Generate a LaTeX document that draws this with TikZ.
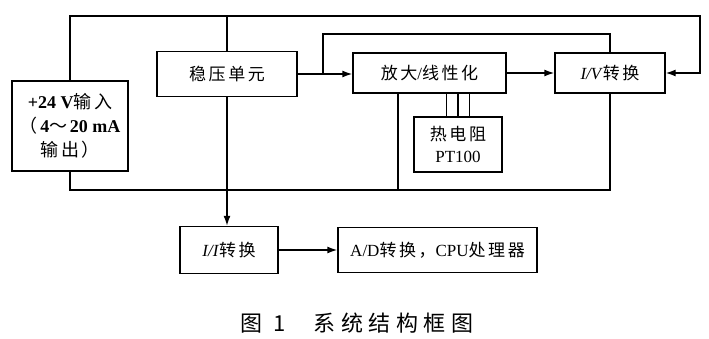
\documentclass[tikz,border=0pt]{standalone}
\usepackage{fontspec}
\setmainfont{Liberation Serif}
\newfontfamily\cjk[LetterSpace=15]{Noto Sans CJK SC}
\newfontfamily\cjkwide[LetterSpace=25]{Noto Sans CJK SC}
\usetikzlibrary{positioning,arrows.meta}
\newcommand{\zh}[1]{{\cjk #1}}

\begin{document}
\begin{tikzpicture}[
    x=1pt, y=-1pt,
    font=\fontsize{17}{22}\selectfont,
    block/.style={draw=black, line width=1.4pt, align=center, inner sep=2pt},
    wire/.style={line width=1.4pt, black},
    flow/.style={wire, -{Latex[length=10pt,width=7pt]}}
  ]
  \useasboundingbox (0,0) rectangle (709,339);
  % blocks
  \node[block, minimum width=116pt, minimum height=90pt, font=\fontsize{18}{24}\selectfont] (input) at (70,126)
    {\textbf{+24 V}\zh{输入}\\\zh{（}\textbf{4}\zh{～}\textbf{20 mA}\\\zh{输出）}};
  \node[block, minimum width=140pt, minimum height=45pt] (reg) at (227,74) {\zh{稳压单元}};
  \node[block, minimum width=153pt, minimum height=40pt] (amp) at (429.5,73) {\zh{放大}/\zh{线性化}};
  \node[block, minimum width=110pt, minimum height=40pt] (iv) at (610,73) {\textit{I/V}\zh{转换}};
  \node[block, minimum width=88pt, minimum height=55pt] (rtd) at (458,144.5) {\zh{热电阻}\\PT100};
  \node[block, minimum width=98pt, minimum height=47pt] (ii) at (229,250) {\textit{I/I}\zh{转换}};
  \node[block, minimum width=199pt, minimum height=45pt] (ad) at (437.5,250) {A/D\zh{转换，}CPU\zh{处理器}};
  \node (caption) at (357,323) {\cjkwide\fontsize{22}{26}\selectfont 图 1\hspace{1.3em}系统结构框图};
  % supply rails
  \coordinate (tr) at (700,16);
  \coordinate (bl) at (70,190);
  \coordinate (loop) at (323,34);
  \draw[flow] (input.north) |- (tr) |- (iv.east);
  \draw[wire] (reg.north) -- (reg.north |- tr);
  \draw[flow] (reg.south) -- (reg.south |- ii.north);
  \draw[wire] (input.south) |- (iv.south |- bl) -- (iv.south);
  \draw[wire] ([xshift=-31.5pt]amp.south) -- ([xshift=-31.5pt]amp.south |- bl);
  % signal path
  \draw[flow] (reg.east) -- (reg.east -| amp.west);
  \draw[wire] (reg.east -| loop) -- (loop) -| (iv.north);
  \draw[flow] (amp.east) -- (iv.west);
  \draw[flow] (ii.east) -- (ad.west);
  \foreach \dx in {-11.5,0,11.5}
    \draw[wire] ([xshift=\dx pt]rtd.north) -- ([xshift=\dx pt]rtd.north |- amp.south);
\end{tikzpicture}
\end{document}
